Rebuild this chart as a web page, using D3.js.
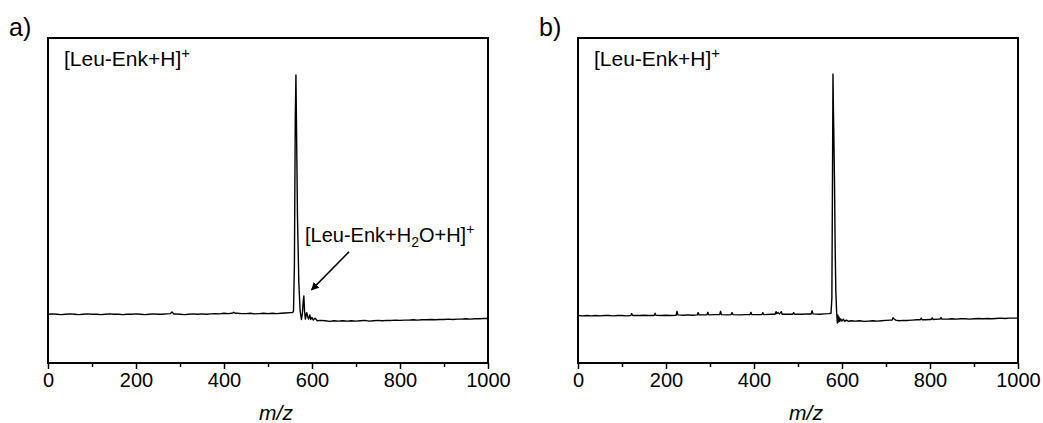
<!DOCTYPE html>
<html>
<head>
<meta charset="utf-8">
<script src="https://cdn.jsdelivr.net/npm/d3@7/dist/d3.min.js"></script>
<style>
  html, body { margin: 0; padding: 0; background: #fff; }
  svg { display: block; font-family: Arial, "Liberation Sans", sans-serif; }
</style>
</head>
<body>
<svg id="chart" width="1043" height="423"></svg>
<script>
// Mass spectra of Leu-enkephalin, two acquisition conditions (a, b).
// Each series is a list of [m/z, relative intensity] pairs.
const spectrumA = [
  [0,15.0],[10,15.1],[20,15.0],[30,14.9],[40,15.0],[50,15.1],[60,15.0],[70,14.9],[80,15.0],[90,15.1],
  [100,15.0],[110,15.0],[120,14.9],[130,15.0],[140,15.1],[150,15.0],[160,15.0],[170,14.9],[180,15.0],[190,15.0],
  [200,15.1],[210,15.0],[220,14.9],[230,15.0],[240,15.1],[250,15.0],[260,15.0],[270,15.1],[278,15.2],[282,15.7],
  [286,15.1],[290,15.1],
  [300,15.0],[310,14.9],[320,15.0],[330,15.1],[340,15.0],[350,15.1],[360,15.0],[370,15.1],[380,15.2],[390,15.1],
  [400,15.3],[410,15.2],[418,15.3],[422,15.6],[426,15.3],[430,15.3],[440,15.2],[450,15.2],[460,15.3],[470,15.1],
  [480,15.2],[490,15.3],
  [500,15.2],[510,15.3],[520,15.2],[530,15.3],[540,15.4],[550,15.5],[556,15.5],[558,16.0],
  [560,30.0],[562,75.0],[563.5,88.6],[565,70.0],[567,45.0],[570,25.0],[573,16.0],[576,13.4],
  [578,15.0],[580,19.0],[581.5,20.6],[583,16.0],[585,13.5],[588,15.5],[590,14.5],[592,13.5],
  [595,14.8],[597,13.4],[600,14.0],[603,13.2],[607,13.8],[612,13.0],
  [620,13.1],[630,13.0],[640,12.8],[650,13.0],[660,12.9],[670,13.0],[680,12.9],[690,13.0],[700,12.9],
  [710,13.0],[720,13.1],[730,12.9],[740,13.0],[750,13.1],[760,13.0],[770,13.1],[780,13.1],[790,13.2],
  [800,13.1],[810,13.2],[820,13.2],[830,13.3],[840,13.2],[850,13.3],[860,13.3],[870,13.4],[880,13.3],
  [890,13.4],[900,13.4],[910,13.5],[920,13.4],[930,13.5],[940,13.5],[950,13.6],[960,13.5],[970,13.6],
  [980,13.6],[990,13.7],[1000,13.7]
];

const spectrumB = [
  [0,14.6],[10,14.5],[20,14.6],[30,14.5],[40,14.6],[50,14.5],[60,14.6],[70,14.6],[80,14.5],[90,14.6],
  [100,14.6],[110,14.5],[120,14.6],[122,15.2],[124,14.6],[130,14.6],[140,14.6],[150,14.7],[160,14.6],
  [173,14.6],[175,15.3],[177,14.7],[190,14.6],[200,14.7],[210,14.6],[223,14.7],[225,15.9],[227,14.8],
  [240,14.7],[250,14.8],[260,14.7],[271,14.8],[273,15.5],[275,14.8],[293,14.8],[295,15.6],[297,14.8],
  [310,14.9],[322,14.9],[324,15.9],[326,14.9],[340,14.8],[348,14.9],[350,15.5],[352,14.9],[370,14.8],
  [380,14.9],[391,14.9],[393,15.6],[395,14.9],[410,14.9],[418,14.9],[420,15.5],[422,14.9],[440,15.0],
  [448,15.0],[450,15.8],[452,15.2],[455,15.5],[458,15.1],[462,15.8],[464,15.0],[480,15.0],[488,15.0],
  [490,15.5],[492,15.0],[510,15.0],[520,15.1],[530,15.1],[532,16.1],[534,15.1],[550,15.0],[560,15.1],
  [570,15.2],[575,15.3],
  [577,20.0],[578.5,60.0],[579.5,88.9],[580.5,78.0],[581.5,70.0],[583,55.0],[584.5,35.0],[586,22.0],
  [588,15.0],[589.5,12.3],[590.5,14.8],[592,12.6],[593,14.2],[595,12.8],[597,13.6],[600,12.9],
  [603,13.5],[606,12.8],[610,13.2],[615,12.8],[620,13.0],
  [630,12.9],[640,13.0],[650,12.8],[660,12.9],[670,13.0],[680,12.9],[690,13.0],[700,13.1],[710,13.2],
  [714,13.2],[716,13.9],[718,13.6],[722,13.2],[730,13.0],[740,13.1],[750,13.1],[760,13.2],[770,13.3],
  [778,13.3],[780,13.8],[782,13.3],[790,13.3],[800,13.4],[803,13.4],[805,13.9],[807,13.4],[820,13.5],
  [823,13.5],[825,14.0],[827,13.5],[840,13.5],[850,13.6],[860,13.5],[870,13.6],[880,13.6],[890,13.5],
  [900,13.6],[910,13.7],[920,13.6],[930,13.7],[940,13.6],[950,13.7],[960,13.8],[970,13.7],[980,13.8],
  [990,13.8],[1000,13.8]
];

const majorTicks = [0, 200, 400, 600, 800, 1000];
const minorTicks = [100, 300, 500, 700, 900];
const panelLetters = ["a)", "b)"];
const ionLabel = "[Leu-Enk+H]";
// Annotation for the water adduct in panel a: arrow tail and head in data units
const adductArrow = { from: [684, 34.2], to: [599, 22.5] };

const svg = d3.select("#chart");

const panels = [
  { data: spectrumA, left: 48, letter: panelLetters[0], adduct: true },
  { data: spectrumB, left: 578, letter: panelLetters[1], adduct: false }
];

const plotW = 440, plotTop = 38, plotBottom = 363;

svg.append("defs").append("marker")
  .attr("id", "arrowhead")
  .attr("viewBox", "0 0 10 10")
  .attr("refX", 9).attr("refY", 5)
  .attr("markerWidth", 8).attr("markerHeight", 8)
  .attr("markerUnits", "userSpaceOnUse")
  .attr("orient", "auto")
  .append("path")
  .attr("d", "M0,0 L10,5 L0,10 z")
  .attr("fill", "#000");

panels.forEach(p => {
  const x = d3.scaleLinear().domain([0, 1000]).range([p.left, p.left + plotW]);
  const y = d3.scaleLinear().domain([0, 100]).range([plotBottom, plotTop]);
  const g = svg.append("g");

  // spectrum trace
  g.append("path")
    .datum(p.data)
    .attr("fill", "none")
    .attr("stroke", "#000")
    .attr("stroke-width", 1.4)
    .attr("stroke-linejoin", "round")
    .attr("d", d3.line().x(d => x(d[0])).y(d => y(d[1])));

  // bottom axis: major ticks with labels, minor ticks without
  const axis = g.append("g")
    .attr("transform", `translate(0,${plotBottom})`)
    .call(d3.axisBottom(x).tickValues(majorTicks).tickSize(6).tickPadding(4).tickFormat(d3.format("d")));
  axis.select(".domain").remove();
  axis.selectAll(".tick line").attr("stroke", "#000").attr("stroke-width", 1.5);
  axis.selectAll(".tick text")
    .attr("fill", "#000")
    .style("font-size", "20px")
    .style("font-family", "Arial, 'Liberation Sans', sans-serif");

  const minor = g.append("g")
    .attr("transform", `translate(0,${plotBottom})`)
    .call(d3.axisBottom(x).tickValues(minorTicks).tickSize(4).tickFormat(""));
  minor.select(".domain").remove();
  minor.selectAll(".tick line").attr("stroke", "#000").attr("stroke-width", 1.5);

  // plot frame
  g.append("rect")
    .attr("x", x(0)).attr("y", plotTop)
    .attr("width", x(1000) - x(0)).attr("height", plotBottom - plotTop)
    .attr("fill", "none").attr("stroke", "#000").attr("stroke-width", 2);

  // axis title
  g.append("text")
    .attr("x", (x(0) + x(1000)) / 2 + 8)
    .attr("y", 420)
    .attr("text-anchor", "middle")
    .style("font-size", "21px")
    .style("font-style", "italic")
    .text("m/z");

  // panel letter
  svg.append("text")
    .attr("x", p.left - 39).attr("y", 36)
    .style("font-size", "25px")
    .text(p.letter);

  // ion label
  const lbl = g.append("text")
    .attr("x", p.left + 16).attr("y", 66)
    .style("font-size", "21px");
  lbl.append("tspan").text(ionLabel);
  lbl.append("tspan").attr("dy", -8).style("font-size", "15px").text("+");

  if (p.adduct) {
    const t = g.append("text")
      .attr("x", x(584)).attr("y", 242)
      .style("font-size", "20px");
    t.append("tspan").text("[Leu-Enk+H");
    t.append("tspan").attr("dy", 5).style("font-size", "14px").text("2");
    t.append("tspan").attr("dy", -5).text("O+H]");
    t.append("tspan").attr("dy", -8).style("font-size", "14px").text("+");

    g.append("line")
      .attr("x1", x(adductArrow.from[0])).attr("y1", y(adductArrow.from[1]))
      .attr("x2", x(adductArrow.to[0])).attr("y2", y(adductArrow.to[1]))
      .attr("stroke", "#000").attr("stroke-width", 1.5)
      .attr("marker-end", "url(#arrowhead)");
  }
});
</script>
</body>
</html>
